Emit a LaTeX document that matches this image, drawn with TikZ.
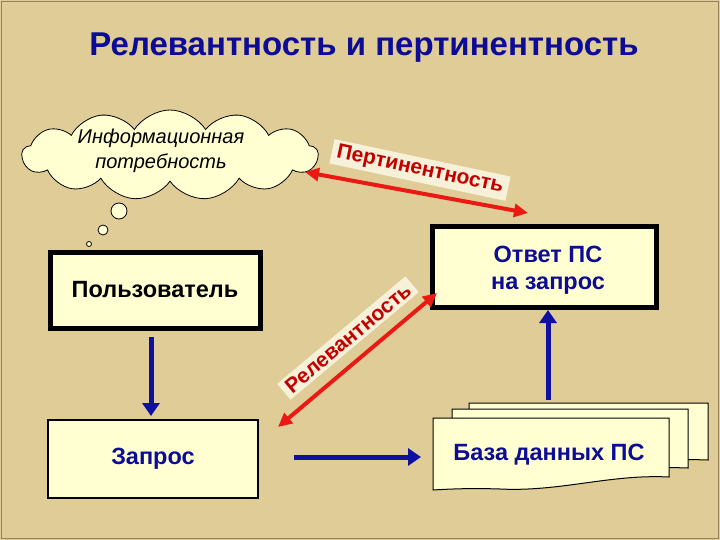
\documentclass[tikz,border=0pt]{standalone}
\usepackage{fontspec}
\setmainfont{Liberation Sans}
\usetikzlibrary{shapes.symbols,arrows.meta}
\definecolor{bg}{RGB}{224,204,150}
\definecolor{paper}{RGB}{255,255,210}
\definecolor{dblue}{RGB}{16,16,160}
\definecolor{tblue}{RGB}{12,12,150}
\definecolor{rred}{RGB}{235,25,20}
\definecolor{tred}{RGB}{195,0,0}
\definecolor{labbg}{RGB}{246,241,216}
\definecolor{edge}{RGB}{150,130,90}
\tikzset{
  thickbox/.style={draw=black,line width=5pt,fill=paper},
  thinbox/.style={draw=black,line width=1.3pt,fill=paper},
  sheet/.style={draw=black,line width=1pt,fill=paper},
  bluearrow/.style={draw=dblue,line width=5pt,-{Triangle[length=13pt,width=17pt]}},
  redarrow/.style={draw=rred,line width=4pt,{Triangle[length=14pt,width=13pt]}-{Triangle[length=14pt,width=13pt]}},
  bluetext/.style={text=tblue,font=\bfseries\fontsize{23.5}{27}\selectfont,align=center},
  redlabel/.style={fill=labbg,text=tred,font=\bfseries\fontsize{21}{25}\selectfont,inner xsep=5pt,inner ysep=3pt},
  bubble/.style={draw=black,line width=0.8pt,fill=paper}
}
\begin{document}
\begin{tikzpicture}[x=1pt,y=-1pt]
\fill[bg] (0,0) rectangle (720,540);
\draw[edge,line width=1.2pt] (1.5,1.5) rectangle (718.5,538.5);
\useasboundingbox (0,0) rectangle (720,540);

% title
\node[text=tblue,font=\bfseries\fontsize{33}{38}\selectfont] (title) at (364,48) {Релевантность и пертинентность};

% cloud
\node[cloud, cloud puffs=13, cloud puff arc=115, draw=black, line width=0.8pt, fill=paper,
      minimum width=296pt, minimum height=90pt, inner sep=0pt, aspect=3.3] (cloud) at (170,155) {};
\node[font=\itshape\fontsize{20}{25}\selectfont,align=center] (need) at (161,151) {Информационная\\потребность};
\node[bubble,circle,minimum size=16pt,inner sep=0pt] (b1) at (119,211) {};
\node[bubble,circle,minimum size=10pt,inner sep=0pt] (b2) at (103,230) {};
\node[bubble,circle,minimum size=5pt,inner sep=0pt] (b3) at (89,244) {};

% boxes
\node[thickbox,minimum width=210pt,minimum height=76pt,font=\bfseries\fontsize{23.5}{27}\selectfont] (user) at (155,290) {Пользователь};
\node[thinbox,minimum width=210pt,minimum height=78pt,bluetext] (query) at (153,459) {Запрос};
\node[thickbox,minimum width=224pt,minimum height=81pt] (answer) at (544,267) {};
\node[bluetext] (anstext) at (548,270) {Ответ ПС\\на запрос};

% database sheets
\draw[sheet] (469,403) -- (708,403) -- (708,460) .. controls (660,458) and (600,466) .. (560,466) -- (469,466) -- cycle;
\draw[sheet] (452,409) -- (688,409) -- (688,468) .. controls (640,466) and (580,474) .. (540,474) -- (452,474) -- cycle;
\draw[sheet] (433,418) -- (669,418) -- (669,477) .. controls (610,474) and (560,492) .. (500,489) .. controls (470,488) and (450,489) .. (433,490) -- cycle;
\node[bluetext] (db) at (549,455) {База данных ПС};

% blue arrows
\draw[bluearrow] (151,337) -- (151,416);
\draw[bluearrow] (query.east |- 0,457) ++(35,0) coordinate (qa) -- (421,457) coordinate (qb);
\draw[bluearrow] (548,400) -- (answer.south -| 548,0);

% red arrows
\coordinate (p1) at (305,172);
\coordinate (p2) at (528,213);
\draw[redarrow] (p1) -- (p2);
\node[redlabel,rotate=-12] (pert) at (420,170) {Пертинентность};

\coordinate (r1) at (278,427);
\coordinate (r2) at (437,293);
\draw[redarrow] (r1) -- (r2);
\node[redlabel,rotate=40] (rel) at (348,338) {Релевантность};
\end{tikzpicture}
\end{document}
